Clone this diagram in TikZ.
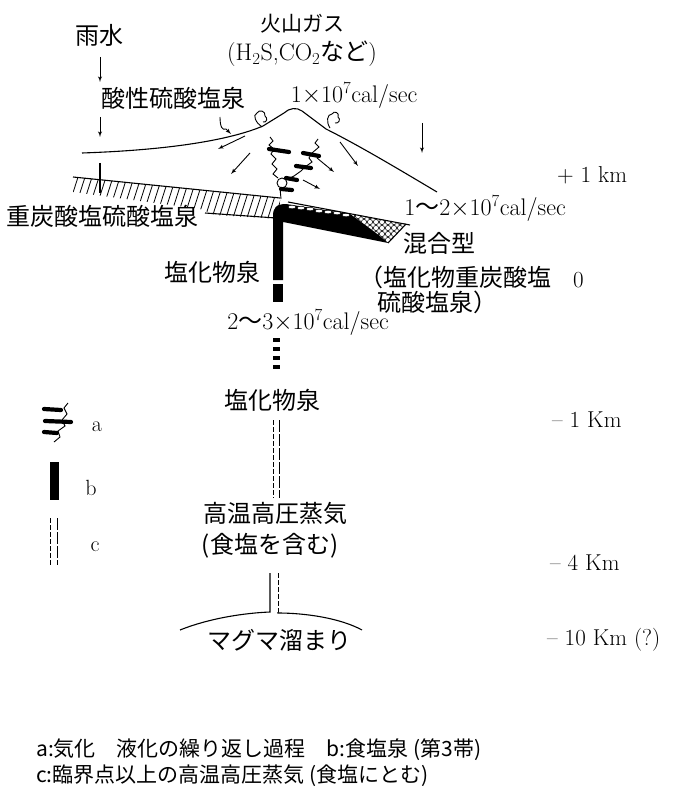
\documentclass[tikz,border=0pt]{standalone}
\usepackage{fontspec}
\newfontfamily\jpfont{Noto Sans CJK JP}
\usetikzlibrary{arrows}

\begin{document}
\begin{tikzpicture}[x=1pt,y=-1pt]
\tikzset{jp/.style={font=\jpfont\fontsize{24}{28}\selectfont,inner sep=0pt}}
\tikzset{en/.style={font=\fontsize{24}{28}\selectfont,inner sep=0pt}}
\tikzset{depth/.style={font=\fontsize{23}{27}\selectfont,inner sep=0pt,anchor=west}}
\tikzset{note/.style={font=\jpfont\fontsize{21}{25}\selectfont,inner sep=0pt,anchor=west}}
\tikzset{ground/.style={line width=1.1pt}}
\tikzset{flow/.style={-latex',line width=0.9pt}}
\tikzset{vapour/.style={line width=0.9pt}}
\tikzset{drop/.style={line width=4.2pt,line cap=round}}
\tikzset{cdash/.style={line width=1pt,dash pattern=on 5pt off 2pt}}
\tikzset{clong/.style={line width=1pt,dash pattern=on 12pt off 2pt}}

\useasboundingbox (0,0) rectangle (672,805);

% labels
\node[jp,font=\jpfont\fontsize{21}{25}\selectfont] (gas) at (302,24) {火山ガス};
\node[en] (gasmix) at (302,54)
  {(H\textsubscript{2}S,CO\textsubscript{2}{\jpfont など})};
\node[jp] (rain) at (99,35) {雨水};
\node[jp] (acid) at (173,98) {酸性硫酸塩泉};
\node[en] (heat1) at (354,95) {1$\times$10\textsuperscript{7}cal/sec};
\node[jp] (bicarb) at (102,216) {重炭酸塩硫酸塩泉};
\node[en] (heat2) at (485,208) {1{\jpfont 〜}2$\times$10\textsuperscript{7}cal/sec};
\node[jp] (mixed) at (439,243) {混合型};
\node[jp] (mixed1) at (455,277) {（塩化物重炭酸塩};
\node[jp] (mixed2) at (437,302) {硫酸塩泉）};
\node[jp] (chlor1) at (212,272) {塩化物泉};
\node[en] (heat3) at (308,322) {2{\jpfont 〜}3$\times$10\textsuperscript{7}cal/sec};
\node[jp] (chlor2) at (272,400) {塩化物泉};
\node[jp] (steam) at (275,513) {高温高圧蒸気};
\node[jp] (steam2) at (270,546) {(食塩を含む)};
\node[jp] (magma) at (279,640) {マグマ溜まり};

% depth scale
\node[depth] (dp1) at (557,175) {+ 1 km};
\node[depth] (d0) at (573,280) {0};
\node[depth] (dm1) at (552,420) {-- 1 Km};
\node[depth] (dm4) at (550,563) {-- 4 Km};
\node[depth] (dm10) at (547,640) {-- 10 Km (?)};

% rain
\draw[flow] (100,57) -- (100,82);
\draw[flow] (100,117) -- (100,137);
\draw[ground] (100,163) -- (100,193);
\draw[flow] (422,123) -- (422,153);
\draw[flow] (220,117) .. controls (220,126) and (222,131) .. (226,129) -- (231,134);

% surface and volcano
\draw[ground] (82,153) .. controls (170,150) and (230,140) .. (263,126)
  -- (284,113) .. controls (289,108) and (297,107) .. (302,111)
  -- (326,129) .. controls (360,146) and (400,170) .. (437,192);
\draw[vapour] (262,127) .. controls (256,123) and (252,115) .. (257,113)
  .. controls (259,109) and (266,111) .. (265,116)
  .. controls (268,118) and (267,123) .. (263,122);
\draw[vapour] (330,128) .. controls (326,122) and (327,114) .. (332,114)
  .. controls (334,110) and (340,113) .. (338,117)
  .. controls (341,119) and (339,124) .. (335,123);

% flow on the flanks
\draw[flow] (245,136) -- (218,149);
\draw[flow] (250,153) -- (231,174);
\draw[flow] (340,142) -- (358,166);
\draw[flow] (317,158) -- (334,172);
\draw[flow] (303,180) -- (320,189);

% vapour paths with condensed drops (a)
\draw[vapour] (270,137) -- (273,141) -- (269,145) -- (274,149) -- (271,154)
  -- (276,159) -- (272,164) -- (277,169) -- (273,174) -- (278,178);
\draw[vapour] (282,183) circle (5pt);
\draw[vapour] (280,188) -- (281,199);
\draw[vapour] (318,139) -- (315,143) -- (319,147) -- (312,153) -- (309,158)
  -- (312,162) -- (305,167) -- (301,171) -- (294,176) -- (286,180);
\draw[drop] (269,149) -- (289,152);
\draw[drop] (303,153) -- (319,156);
\draw[drop] (296,166) -- (311,168);
\draw[drop] (286,178) -- (297,180);
\draw[drop] (281,189) -- (292,190);

% bicarbonate layer
\begin{scope}
\clip (73,177) -- (280,198) -- (280,219) -- (215,215) -- (200,209) -- (73,192) -- cycle;
\foreach \x in {56,63,...,300}
  \draw[line width=0.8pt] (\x,224) -- ++(16,-50);
\end{scope}
\draw[ground] (73,177) -- (280,198);
\draw[ground] (205,213) -- (276,218);

% chloride conduit (b)
\fill (273,280) -- (273,216) .. controls (273,208) and (276,204) .. (286,204)
  -- (350,214) .. controls (364,224) and (378,234) .. (388,243)
  -- (283,222) -- (283,280) -- cycle;
\fill (273,284) rectangle (283,302);
\foreach \y in {338,347,356,365}
  \fill (273,\y) rectangle (280,\y+4);
\foreach \x/\y in {292/207,301/208,310/209,319/211,328/212,337/213,346/215}
  \filldraw[fill=white,draw=black,line width=0.5pt] (\x,\y) ellipse [x radius=4pt,y radius=1.8pt];
\draw[ground] (288,202) -- (410,225);

% mixed zone
\begin{scope}
\clip (350,214) -- (406,224) -- (388,243) .. controls (378,234) and (364,224) .. (350,214);
\foreach \x in {346,352,...,412}
  \foreach \y in {210,216,...,246}
    \draw[line width=0.6pt] (\x,\y) circle (2.6pt);
\end{scope}
\draw[ground] (406,224) -- (388,243);

% supercritical steam (c)
\draw[cdash] (273,420) -- (273,498);
\draw[clong] (279,420) -- (279,498);
\draw[cdash] (278,573) -- (278,612);
\draw[ground] (270,573) -- (270,612) .. controls (245,613) and (210,618) .. (180,630);
\draw[ground] (278,612) -- (278,613) .. controls (305,613) and (340,618) .. (362,630);

% legend
\draw[vapour] (68,403) -- (64,408) -- (67,414) -- (62,420) -- (65,426)
  -- (58,431) -- (60,437) -- (54,442);
\draw[drop] (44,409) -- (61,410);
\draw[drop] (45,421) -- (71,422);
\draw[drop] (44,432) -- (57,433);
\node[en,font=\fontsize{22}{26}\selectfont] (keya) at (97,427) {a};
\fill (50,462) rectangle (59,500);
\node[en,font=\fontsize{22}{26}\selectfont] (keyb) at (91,488) {b};
\draw[cdash] (50,518) -- (50,565);
\draw[clong] (57,518) -- (57,565);
\node[en,font=\fontsize{22}{26}\selectfont] (keyc) at (95,547) {c};

\node[note] (notea) at (36,750) {a:気化　液化の繰り返し過程　b:食塩泉 (第3帯)};
\node[note] (notec) at (36,776) {c:臨界点以上の高温高圧蒸気 (食塩にとむ)};
\end{tikzpicture}
\end{document}
